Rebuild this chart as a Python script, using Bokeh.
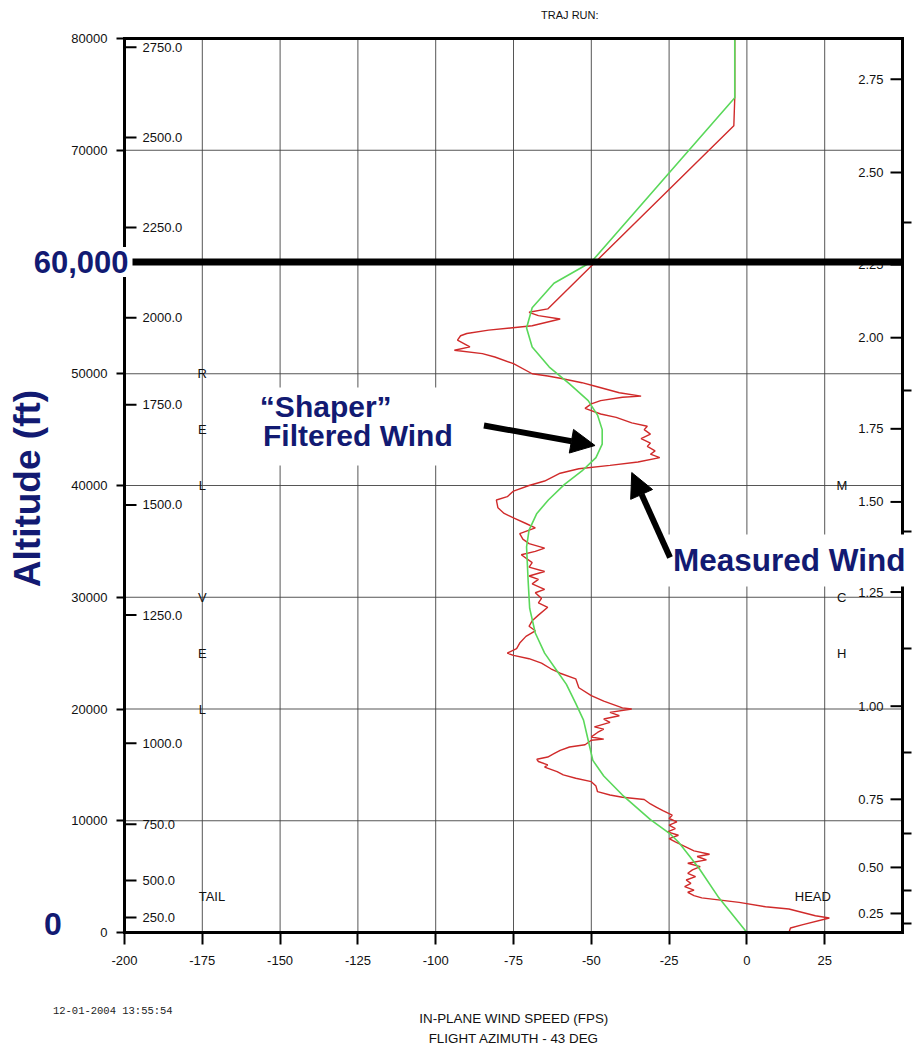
import numpy as np
from bokeh.plotting import figure
from bokeh.models import (Range1d, FixedTicker, LinearAxis, Label, Arrow,
                          NormalHead, BoxAnnotation, BasicTickFormatter)
from bokeh.core.properties import value
from bokeh.embed import file_html
from bokeh.resources import INLINE

# ---------------- data ----------------
measured_alt = [0, 400, 700, 1300, 1500, 2100, 2300, 2700, 3100, 3300, 3600, 3800, 4100, 4400,
                4700, 5000, 5300, 5600, 5900, 6200, 6500, 6800, 7000, 7300, 7700, 8100, 8400,
                8700, 9000, 9300, 9600, 9900, 10200, 10500, 10900, 11200, 11500, 11900, 12100,
                12300, 12600, 13100, 13500, 13800, 14100, 14400, 14600, 14800, 15000, 15300,
                15500, 15700, 16000, 16300, 16600, 16800, 17200, 17300, 17500, 17900, 18200,
                18400, 18800, 19100, 19400, 19700, 20000, 20100, 20700, 21200, 21900, 22700,
                23200, 23600, 24100, 24500, 24800, 25000, 25400, 25900, 26500, 27000, 27400,
                27900, 28400, 29100, 29500, 29900, 30400, 30700, 31200, 31600, 31900, 32300,
                32700, 33100, 33800, 34100, 34400, 34800, 35200, 35700, 36200, 36600, 37100,
                37500, 38000, 38700, 39000, 39500, 40000, 40400, 41100, 41500, 41800, 42100,
                42500, 42800, 43100, 43500, 43800, 44200, 44600, 45000, 45300, 45600, 46100,
                46400, 46900, 47300, 47600, 47900, 48000, 48300, 48900, 49200, 49600, 49800,
                50000, 50900, 51500, 51800, 52100, 52400, 53000, 53400, 53600, 53900, 54100,
                54300, 54900, 55200, 55500, 55800, 72200, 74700, 80000]
measured_wind = [13.5, 14, 18, 26.5, 22, 13.5, 6, -2.5, -14.5, -17, -19, -17, -20, -18,
                 -19.5, -16.5, -19, -17.5, -15, -19, -13, -16, -12, -17, -20, -23, -25,
                 -22, -25.5, -23, -25, -22.5, -25, -24, -27, -29, -31, -33, -40,
                 -44, -48, -48.5, -50, -55, -59, -61, -63, -65, -64, -67,
                 -67.5, -64, -62, -60, -57, -52, -50, -46, -50, -48, -46,
                 -49, -44, -46, -41, -44, -37, -40, -46, -50, -54, -55,
                 -60, -63, -66, -70, -75, -77, -74, -73, -71, -68, -70,
                 -69, -67, -64, -67, -66, -68, -65, -69, -67, -70, -65,
                 -70, -69, -72.5, -68, -65, -70, -72, -73, -68, -71, -75,
                 -78, -80, -80.5, -77, -75, -70, -65, -60, -54, -44, -35,
                 -28, -31, -29.5, -32, -31, -34, -31, -33, -32, -37, -42,
                 -47, -52, -50, -47, -40, -34, -41, -49, -53, -60, -64,
                 -69, -75, -81, -85, -94, -89, -93, -92, -90, -83, -76,
                 -69, -60, -67, -70, -64, -4.2, -3.9, -3.9]

filtered_alt = [0, 3100, 5800, 8100, 8900, 10100, 12300, 14000, 15400, 17200, 19000, 20500,
                22200, 23400, 25000, 26800, 29000, 31500, 34500, 36000, 37500, 38700, 40100,
                41300, 42500, 43700, 45000, 46300, 47600, 49100, 50600, 52400, 54100, 55900,
                58100, 60000, 74700, 80000]
filtered_wind = [0, -9, -15.5, -22, -25, -31, -40, -46, -49.5, -51, -52.5, -55,
                 -58, -61, -65, -68, -69.8, -70.3, -70.8, -70, -67.5, -63.8, -58.6,
                 -53, -48.5, -46.5, -46.5, -48, -51, -57, -63.5, -69, -70.8, -69,
                 -62, -50, -3.9, -3.9]

alt_ticks = [0, 10000, 20000, 30000, 40000, 50000, 60000, 70000, 80000]
speed_ticks = [-200, -175, -150, -125, -100, -75, -50, -25, 0, 25]
speed_tick_labels = ["-200", "-175", "-150", "-125", "-100", "-75", "-50", "-25", "0", "25"]

time_labels = ["250.0", "500.0", "750.0", "1000.0", "1250.0", "1500.0", "1750.0",
               "2000.0", "2250.0", "2500.0", "2750.0"]
time_tick_alt = [1344, 4659, 9677, 16935, 28405, 38262, 47222, 55018, 63082, 71147, 79211]

mach_labels = ["0.25", "0.50", "0.75", "1.00", "1.25", "1.50", "1.75", "2.00", "2.25",
               "2.50", "2.75"]
mach_tick_alt = [1703, 5824, 11918, 20251, 30466, 38530, 45072, 53226, 59767, 68011, 76344]

right_tick_alt = [805, 3758, 8859, 16107, 25414, 35884, 48501, 63535]

relvel_letters = ["R", "E", "L", "V", "E", "L"]
relvel_alt = [50000, 45000, 40000, 30000, 25000, 20000]
mach_letters = ["M", "A", "C", "H"]
mach_letter_alt = [40000, 35000, 30000, 25000]

highlight_alt = 60000

# ---------------- layout ----------------
NAVY = "#121a72"
FONT = "Liberation Sans"
W, H = 912, 1050
BOX_L, BOX_R, BOX_T, BOX_B = 124, 902, 38, 932      # canvas px of the plotting box
X0, X1, Y0, Y1 = -200, 50, 0, 80000                  # plotting box in data units
sx = (BOX_R - BOX_L) / (X1 - X0)
sy = (BOX_B - BOX_T) / (Y1 - Y0)

p = figure(width=W, height=H,
           x_range=Range1d(X0 - BOX_L / sx, X1 + (W - BOX_R) / sx),
           y_range=Range1d(Y0 - (H - BOX_B) / sy, Y1 + BOX_T / sy),
           output_backend="svg", toolbar_location=None,
           min_border=0, min_border_left=0, min_border_right=0,
           min_border_top=0, min_border_bottom=0)
p.background_fill_color = "white"
p.border_fill_color = "white"
p.outline_line_color = None
p.grid.visible = False

# bottom axis
xa = p.xaxis[0]
xa.fixed_location = Y0
xa.bounds = (X0, X1)
xa.ticker = FixedTicker(ticks=speed_ticks)
xa.major_label_overrides = dict(zip(speed_ticks, speed_tick_labels))
xa.axis_line_width = 3
xa.axis_line_cap = "square"
xa.major_tick_out = 12
xa.major_tick_in = 0
xa.major_tick_line_width = 2
xa.minor_tick_line_color = None
xa.major_label_standoff = 11
xa.major_label_text_font = FONT
xa.major_label_text_font_size = "13px"
xa.major_label_text_color = "#111111"

# left axis
ya = p.yaxis[0]
ya.fixed_location = X0
ya.bounds = (Y0, Y1)
ya.ticker = FixedTicker(ticks=alt_ticks)
ya.formatter = BasicTickFormatter(use_scientific=False)
ya.axis_line_width = 3
ya.axis_line_cap = "square"
ya.major_tick_out = 8
ya.major_tick_in = 0
ya.major_tick_line_width = 2
ya.minor_tick_line_color = None
ya.major_label_standoff = 9
ya.major_label_text_font = FONT
ya.major_label_text_font_size = "13px"
ya.major_label_text_color = "#111111"

# right axis (unlabelled outer ticks) and top border
ra = LinearAxis(fixed_location=X1, bounds=(Y0, Y1), ticker=FixedTicker(ticks=right_tick_alt),
                major_label_overrides={t: "" for t in right_tick_alt},
                major_tick_out=9, major_tick_in=0, major_tick_line_width=2,
                minor_tick_line_color=None, axis_line_width=3, axis_line_cap="square",
                major_label_standoff=0, major_label_text_font_size="1px")
p.add_layout(ra, "right")
ta = LinearAxis(fixed_location=Y1, bounds=(X0, X1), ticker=FixedTicker(ticks=[]),
                major_tick_line_color=None, minor_tick_line_color=None,
                axis_line_width=3, axis_line_cap="square", major_label_text_font_size="1px")
p.add_layout(ta, "above")

# grid lines
gx = speed_ticks[1:]
gy = alt_ticks[1:-1]
p.segment(x0=gx, x1=gx, y0=[Y0] * len(gx), y1=[Y1] * len(gx),
          line_color="#444444", line_width=1, line_alpha=0.9)
p.segment(x0=[X0] * len(gy), x1=[X1] * len(gy), y0=gy, y1=gy,
          line_color="#444444", line_width=1, line_alpha=0.9)

# inner time axis (left) and Mach axis (right)
n_t = len(time_tick_alt)
p.ray(x=[X0] * n_t, y=time_tick_alt, length=12, length_units="screen", angle=0,
      line_color="black", line_width=2)
p.text(x=[X0] * n_t, y=time_tick_alt, text=time_labels, x_offset=18,
       text_align="left", text_baseline="middle", text_font=value(FONT),
       text_font_size="13px", text_color="#111111")

n_m = len(mach_tick_alt)
p.ray(x=[X1] * n_m, y=mach_tick_alt, length=12, length_units="screen", angle=np.pi,
      line_color="black", line_width=2)
p.text(x=[X1] * n_m, y=mach_tick_alt, text=mach_labels, x_offset=-19,
       text_align="right", text_baseline="middle", text_font=value(FONT),
       text_font_size="13px", text_color="#111111")

# vertical letter labels
p.text(x=[-175] * len(relvel_alt), y=relvel_alt, text=relvel_letters, text_align="center",
       text_baseline="middle", text_font=value(FONT), text_font_size="13px",
       text_color="#111111")
p.text(x=[30.5] * len(mach_letter_alt), y=mach_letter_alt, text=mach_letters,
       text_align="center", text_baseline="middle", text_font=value(FONT),
       text_font_size="13px", text_color="#111111")
p.text(x=[-171.9, 21.2], y=[3220, 3220], text=["TAIL", "HEAD"], text_align="center",
       text_baseline="middle", text_font=value(FONT), text_font_size="13px",
       text_color="#111111")

# data lines
p.line(measured_wind, measured_alt, line_color="#d02a2a", line_width=1.4)
p.line(filtered_wind, filtered_alt, line_color="#5ad85a", line_width=1.6)

# 60,000 ft line
p.segment(x0=[X0], x1=[X1], y0=[highlight_alt], y1=[highlight_alt],
          line_color="black", line_width=7)

# annotations
p.add_layout(Label(x=X0, y=highlight_alt, x_offset=8, text="60,000", text_align="right",
                   text_baseline="middle", text_font=FONT, text_font_style="bold",
                   text_font_size="31px", text_color=NAVY,
                   background_fill_color="white", padding=4))
p.add_layout(Label(x=-231.3, y=39730, angle=np.pi / 2, text="Altitude (ft)",
                   text_align="center", text_baseline="middle", text_font=FONT,
                   text_font_style="bold", text_font_size="37px", text_color=NAVY))
p.add_layout(Label(x=-223.0, y=800, text="0", text_align="center", text_baseline="middle",
                   text_font=FONT, text_font_style="bold", text_font_size="32px",
                   text_color=NAVY))

p.add_layout(BoxAnnotation(left=-157, right=-88, bottom=41800, top=48770,
                           fill_color="white", fill_alpha=1.0, line_alpha=0))
p.add_layout(Label(x=-156.5, y=47070, text="\u201cShaper\u201d", text_align="left",
                   text_baseline="alphabetic", text_font=FONT, text_font_style="bold",
                   text_font_size="30px", text_color=NAVY))
p.add_layout(Label(x=-155.5, y=44480, text="Filtered Wind", text_align="left",
                   text_baseline="alphabetic", text_font=FONT, text_font_style="bold",
                   text_font_size="30px", text_color=NAVY))

p.add_layout(Label(x=-26.3, y=33290, text="Measured Wind", text_align="left",
                   text_baseline="alphabetic", text_font=FONT, text_font_style="bold",
                   text_font_size="31.5px", text_color=NAVY,
                   background_fill_color="white", padding=8))

p.add_layout(Arrow(end=NormalHead(size=24, fill_color="black", line_color="black"),
                   x_start=-84.5, y_start=45370, x_end=-48.8, y_end=43580,
                   line_color="black", line_width=6))
p.add_layout(Arrow(end=NormalHead(size=24, fill_color="black", line_color="black"),
                   x_start=-24.7, y_start=33560, x_end=-37.0, y_end=41160,
                   line_color="black", line_width=6))

# title and footer texts
p.add_layout(Label(x=-56.9, y=82060, text="TRAJ RUN:", text_align="center",
                   text_baseline="middle", text_font=FONT, text_font_size="11px",
                   text_color="#111111"))
p.add_layout(Label(x=-223, y=-6980, text="12-01-2004 13:55:54", text_align="left",
                   text_baseline="middle", text_font="Liberation Mono",
                   text_font_size="10.5px", text_color="#222222"))
p.add_layout(Label(x=-74.9, y=-7700, text="IN-PLANE WIND SPEED (FPS)", text_align="center",
                   text_baseline="middle", text_font=FONT, text_font_size="13.4px",
                   text_color="#111111"))
p.add_layout(Label(x=-74.9, y=-9490, text="FLIGHT AZIMUTH - 43 DEG", text_align="center",
                   text_baseline="middle", text_font=FONT, text_font_size="13.4px",
                   text_color="#111111"))

open("out.html", "w").write(file_html(p, INLINE))
